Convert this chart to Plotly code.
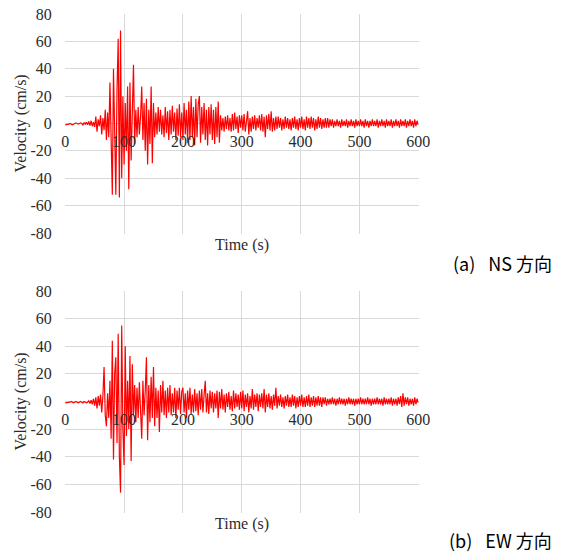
import plotly.graph_objects as go

# Sampling interval of the records (s)
DT = 2

# NS component velocity (cm/s), one value every 2 s from 0 s to 600 s
ns_velocity = [
    # 0-38 s
    -1, -1, -0.5, -0.5, 0, -0.5, -1, -0.5, 0, 0.5, 0, -0.5, 0, 0.5, 0, -1, 0.5, -0.5, 1, -1,
    # 40-58 s
    1.5, -1.5, 2, -2, 1, -2.5, 5, -6, 3, -2,
    # 60-74 s
    6, -8, 4, -5, 10, -12, 8, -10,
    # 76-98 s
    30, -20, -52, 40, -15, -52, 25, 62, -54, 68, -40, 20,
    # 100-118 s
    -30, 15, -20, 27, -48, 30, -27, 20, 43, -15,
    # 120-148 s
    10, -10, 12, -8, 5, 27, -12, 15, -20, 18, -30, 10, -15, 27, -29,
    # 150-198 s
    15, -10, 8, -8, 12, -6, 10, -8, 6, -10, 12, -7, 9, -12, 10, -8, 13, -6, 8, -12, 11, -9, 14, -10, 8,
    # 200-258 s
    -12, 15, -8, 10, -14, 16, -12, 20, -10, 12, -16, 18, -10, 14, 20, -14, 12, -8, 15, -12,
    10, -16, 12, -8, 14, -12, 10, -15, 12, -10,
    # 260-298 s
    16, -14, 6, -5, 4, -6, 5, -4, 6, -5, 4, -6, 7, -5, 8, -4, 5, -7, 6, -3,
    # 300-358 s
    6, -5, 7, -6, 5, 9, -8, 4, -6, 5, -4, 6, -5, 4, -3, 6, -5, 7, -6, 5,
    -10, 6, -4, 7, -5, 9, -6, 4, -5, 5,
    # 360-448 s
    -4, 5, -3, 4, -5, 3, -4, 5, -3, 4, -4, 3, -5, 4, -3, 5, -4, 3, -5, 4,
    -3, 5, -4, 3, -5, 5, -3, 4, -4, 5, -3, 4, -5, 3, -4, 5, -3, 4, -4, 3,
    -3, 4, -3, 4, -3,
    # 450-600 s
    3, -2, 3, -3, 2, -2, 3, -2, 2, -3,
    3, -2, 2, -2, 3, -3, 2, -2, 3, -2,
    2, -3, 3, -2, 2, -2, 3, -2, 2, -3,
    3, -2, 2, -3, 2, -2, 3, -2, 2, -2,
    3, -3, 2, -2, 3, -2, 2, -3, 3, -2,
    2, -2, 3, -3, 2, -2, 3, -2, 2, -3,
    3, -2, 2, -2, 3, -3, 2, -2, 3, -2,
    2, -3, 3, -2, 2, -1,
]

# EW component velocity (cm/s), one value every 2 s from 0 s to 600 s
ew_velocity = [
    # 0-38 s
    -1, -1, -0.5, -1, -0.5, 0, -0.5, -1, -0.5, 0, -0.5, -1, -0.5, 0, -0.5, -1, 0, -0.5, -1, -0.5,
    # 40-58 s
    0.5, -1.5, 1, -2, 2, -3, 3, -5, 4, -3,
    # 60-74 s
    5, -8, 4, 25, -10, -18, 6, -12,
    # 76-98 s
    15, -27, 44, -42, 20, 32, -30, 49, -40, -66, 55, -20,
    # 100-118 s
    -46, 40, -25, 15, -20, 33, -43, 27, -10, 12,
    # 120-148 s
    -15, 10, -12, 14, -10, -27, 15, -10, 8, 32, -28, 12, -15, 18, -12,
    # 150-198 s
    25, -18, 10, -12, 8, -22, 12, -8, 15, -10, 8, -12, 10, -8, 12, -10, 6, -8, 10, -12, 8, -6, 10, -9, 7,
    # 200-258 s
    10, -8, 6, -12, 8, -6, 10, -9, 5, -8, 9, -7, 6, -10, 8, -6, 9, -8, 5, 15,
    -8, 6, -9, 8, -5, 7, -8, 6, -5, 8,
    # 260-298 s
    -12, 7, -5, 9, -6, 5, -8, 6, -4, 7, -6, 4, -7, 8, -5, 6, -4, 5, -6, 7,
    # 300-358 s
    -5, 8, -7, 5, -4, 6, -8, 4, -5, 9, -6, 5, -4, 6, -7, 5, -4, 6, -5, 9,
    -8, 5, -4, 6, -5, 4, -6, 5, -3, 10,
    # 360-448 s
    -5, 4, -3, 5, -4, 3, -5, 4, -3, 5, -4, 3, -4, 5, -3, 4, -5, 3, -4, 4,
    -3, 5, -4, 3, -4, 4, -3, 5, -4, 3, -3, 4, -4, 3, -3, 4, -3, 3, -4, 3,
    -2, 3, -3, 2, -2,
    # 450-600 s
    2, -2, 3, -2, 2, -3, 2, -2, 3, -2,
    2, -2, 2, -3, 2, -2, 3, -2, 2, -2,
    2, -3, 2, -2, 2, -2, 3, -2, 2, -2,
    2, -2, 3, -2, 2, -3, 2, -2, 2, -2,
    3, -2, 2, -2, 2, -3, 3, -2, 2, -2,
    2, -2, 3, -3, 2, -2, 2, -3, 3, -2,
    4, -4, 6, -3, 3, -2, 3, -3, 2, -2,
    2, -3, 3, -2, 2, -1,
]

time_ns = [DT * i for i in range(len(ns_velocity))]
time_ew = [DT * i for i in range(len(ew_velocity))]

x_ticks = [0, 100, 200, 300, 400, 500, 600]
y_ticks = [-80, -60, -40, -20, 0, 20, 40, 60, 80]
x_title = "Time (s)"
y_title = "Velocity (cm/s)"
captions = ["(a)\u2002 NS 方向", "(b)\u2002 EW 方向"]

# the page body adds an 8 px margin, so the figure is 8 px smaller on each axis
OFF = 8
W, H = 561 - OFF, 553 - OFF


def px_x(x):
    return (x - OFF) / W


def px_y(y):
    return (H - (y - OFF)) / H


X0, X1 = px_x(65), px_x(418.5)
dom_top = [px_y(233.5), px_y(13.5)]
dom_bot = [px_y(512.5), px_y(290.5)]

SERIF = "Liberation Serif, Times New Roman, serif"
GRID = "#d9d9d9"
TXT = "#2b2b2b"
FS = 16

fig = go.Figure()
fig.add_trace(go.Scatter(x=time_ns, y=ns_velocity, mode="lines",
                         line=dict(color="#ff0000", width=1.2), xaxis="x", yaxis="y",
                         showlegend=False, hoverinfo="skip"))
fig.add_trace(go.Scatter(x=time_ew, y=ew_velocity, mode="lines",
                         line=dict(color="#ff0000", width=1.2), xaxis="x2", yaxis="y2",
                         showlegend=False, hoverinfo="skip"))


def xax(dom_y):
    return dict(domain=[X0, X1], range=[-0.4, 600.4], tickvals=x_ticks,
                ticktext=[str(v) for v in x_ticks],
                showgrid=True, gridcolor=GRID, gridwidth=1, zeroline=False,
                showline=False, ticks="outside", ticklen=3, tickcolor="rgba(0,0,0,0)",
                anchor="free", position=(dom_y[0] + dom_y[1]) / 2, automargin=False,
                ticklabeloverflow="allow",
                tickfont=dict(family=SERIF, size=FS, color=TXT), fixedrange=True)


def yax(dom_y):
    return dict(domain=dom_y, range=[-80.4, 80.4], tickvals=y_ticks,
                ticktext=[str(v) for v in y_ticks],
                showgrid=True, gridcolor=GRID, gridwidth=1, zeroline=True,
                zerolinecolor=GRID, zerolinewidth=1, showline=False,
                ticks="outside", ticklen=9, tickcolor="rgba(0,0,0,0)", automargin=False,
                ticklabeloverflow="allow",
                tickfont=dict(family=SERIF, size=FS, color=TXT), fixedrange=True)


fig.update_layout(
    width=W, height=H, margin=dict(l=0, r=0, t=0, b=0, autoexpand=False),
    paper_bgcolor="white", plot_bgcolor="white",
    xaxis=xax(dom_top), yaxis=yax(dom_top),
    xaxis2=xax(dom_bot), yaxis2=yax(dom_bot),
)

annotations = []
for dom, cap, cap_y in [(dom_top, captions[0], 263), (dom_bot, captions[1], 539.5)]:
    annotations.append(dict(text=x_title, xref="paper", yref="paper",
                            x=(X0 + X1) / 2, y=dom[0] - 11 / H, xanchor="center", yanchor="middle",
                            showarrow=False, font=dict(family=SERIF, size=FS, color=TXT)))
    annotations.append(dict(text=y_title, xref="paper", yref="paper", textangle=-90,
                            x=px_x(20), y=(dom[0] + dom[1]) / 2, xanchor="center", yanchor="middle",
                            showarrow=False, font=dict(family=SERIF, size=FS, color=TXT)))
    annotations.append(dict(text=cap, xref="paper", yref="paper",
                            x=px_x(554), y=px_y(cap_y), xanchor="right", yanchor="middle",
                            showarrow=False, font=dict(family="Noto Sans CJK JP", size=18, color="#000000")))
fig.update_layout(annotations=annotations)

fig.write_html("out.html")
